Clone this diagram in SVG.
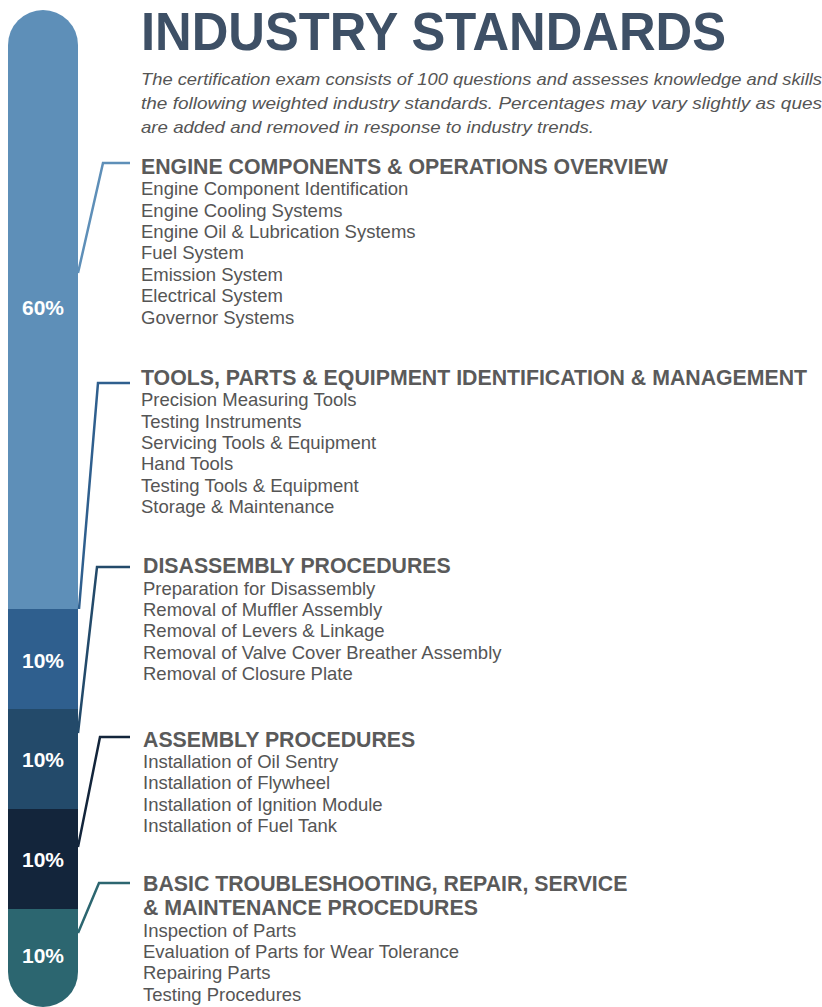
<svg xmlns="http://www.w3.org/2000/svg" width="822" height="1007" viewBox="0 0 822 1007">
<style>
.title{font-family:"Liberation Sans",Arial,sans-serif;font-weight:bold;font-size:53px;fill:#3e5066}
.sub{font-family:"Liberation Sans",Arial,sans-serif;font-style:italic;font-size:17px;fill:#555}
.head{font-family:"Liberation Sans",Arial,sans-serif;font-weight:bold;font-size:21.3px;fill:#5a5a5a}
.item{font-family:"Liberation Sans",Arial,sans-serif;font-size:18.5px;fill:#555}
.pct{font-family:"Liberation Sans",Arial,sans-serif;font-weight:bold;font-size:21px;fill:#fff;text-anchor:middle}
.conn{fill:none;stroke-width:2.5;stroke-linejoin:miter}
</style>
<rect width="822" height="1007" fill="#fff"/>
<g id="title">
<text class="title" x="141" y="50" textLength="585" lengthAdjust="spacingAndGlyphs">INDUSTRY STANDARDS</text>
<text class="sub" x="141" y="85" textLength="681" lengthAdjust="spacingAndGlyphs">The certification exam consists of 100 questions and assesses knowledge and skills</text>
<text class="sub" x="141" y="109" textLength="681" lengthAdjust="spacingAndGlyphs">the following weighted industry standards. Percentages may vary slightly as ques</text>
<text class="sub" x="141" y="133" textLength="453" lengthAdjust="spacingAndGlyphs">are added and removed in response to industry trends.</text>
</g>
<g id="bar">
<path d="M8,45 A35,35 0 0 1 78,45 V609 H8 Z" fill="#5e8fb8"/>
<rect x="8" y="609" width="70" height="100" fill="#2f5f8e"/>
<rect x="8" y="709" width="70" height="100" fill="#234a6a"/>
<rect x="8" y="809" width="70" height="100" fill="#13253b"/>
<path d="M8,909 H78 V972 A35,35 0 0 1 8,972 Z" fill="#2c6670"/>
<text class="pct" x="43" y="315">60%</text>
<text class="pct" x="43" y="668">10%</text>
<text class="pct" x="43" y="767">10%</text>
<text class="pct" x="43" y="867">10%</text>
<text class="pct" x="43" y="963">10%</text>
</g>
<g id="connectors">
<polyline class="conn" stroke="#5e8fb8" points="78,273 103,163 130,163"/>
<polyline class="conn" stroke="#2f5f8e" points="79,609 98,383 130,383"/>
<polyline class="conn" stroke="#234a6a" points="78,733 97,567 130,567"/>
<polyline class="conn" stroke="#13253b" points="78,847 100,737 130,737"/>
<polyline class="conn" stroke="#2c6670" points="78,933 99,883 130,883"/>
</g>
<g id="engine">
<text class="head" x="141" y="174">ENGINE COMPONENTS &amp; OPERATIONS OVERVIEW</text>
<text class="item" x="141" y="195">Engine Component Identification</text>
<text class="item" x="141" y="217">Engine Cooling Systems</text>
<text class="item" x="141" y="238">Engine Oil &amp; Lubrication Systems</text>
<text class="item" x="141" y="259">Fuel System</text>
<text class="item" x="141" y="281">Emission System</text>
<text class="item" x="141" y="302">Electrical System</text>
<text class="item" x="141" y="324">Governor Systems</text>
</g>
<g id="tools">
<text class="head" x="141" y="385">TOOLS, PARTS &amp; EQUIPMENT IDENTIFICATION &amp; MANAGEMENT</text>
<text class="item" x="141" y="406">Precision Measuring Tools</text>
<text class="item" x="141" y="428">Testing Instruments</text>
<text class="item" x="141" y="449">Servicing Tools &amp; Equipment</text>
<text class="item" x="141" y="470">Hand Tools</text>
<text class="item" x="141" y="492">Testing Tools &amp; Equipment</text>
<text class="item" x="141" y="513">Storage &amp; Maintenance</text>
</g>
<g id="disassembly">
<text class="head" x="143" y="573">DISASSEMBLY PROCEDURES</text>
<text class="item" x="143" y="595">Preparation for Disassembly</text>
<text class="item" x="143" y="616">Removal of Muffler Assembly</text>
<text class="item" x="143" y="637">Removal of Levers &amp; Linkage</text>
<text class="item" x="143" y="659">Removal of Valve Cover Breather Assembly</text>
<text class="item" x="143" y="680">Removal of Closure Plate</text>
</g>
<g id="assembly">
<text class="head" x="143" y="747">ASSEMBLY PROCEDURES</text>
<text class="item" x="143" y="768">Installation of Oil Sentry</text>
<text class="item" x="143" y="789">Installation of Flywheel</text>
<text class="item" x="143" y="811">Installation of Ignition Module</text>
<text class="item" x="143" y="832">Installation of Fuel Tank</text>
</g>
<g id="troubleshooting">
<text class="head" x="143" y="891">BASIC TROUBLESHOOTING, REPAIR, SERVICE</text>
<text class="head" x="143" y="915">&amp; MAINTENANCE PROCEDURES</text>
<text class="item" x="143" y="937">Inspection of Parts</text>
<text class="item" x="143" y="958">Evaluation of Parts for Wear Tolerance</text>
<text class="item" x="143" y="979">Repairing Parts</text>
<text class="item" x="143" y="1001">Testing Procedures</text>
</g>
</svg>
